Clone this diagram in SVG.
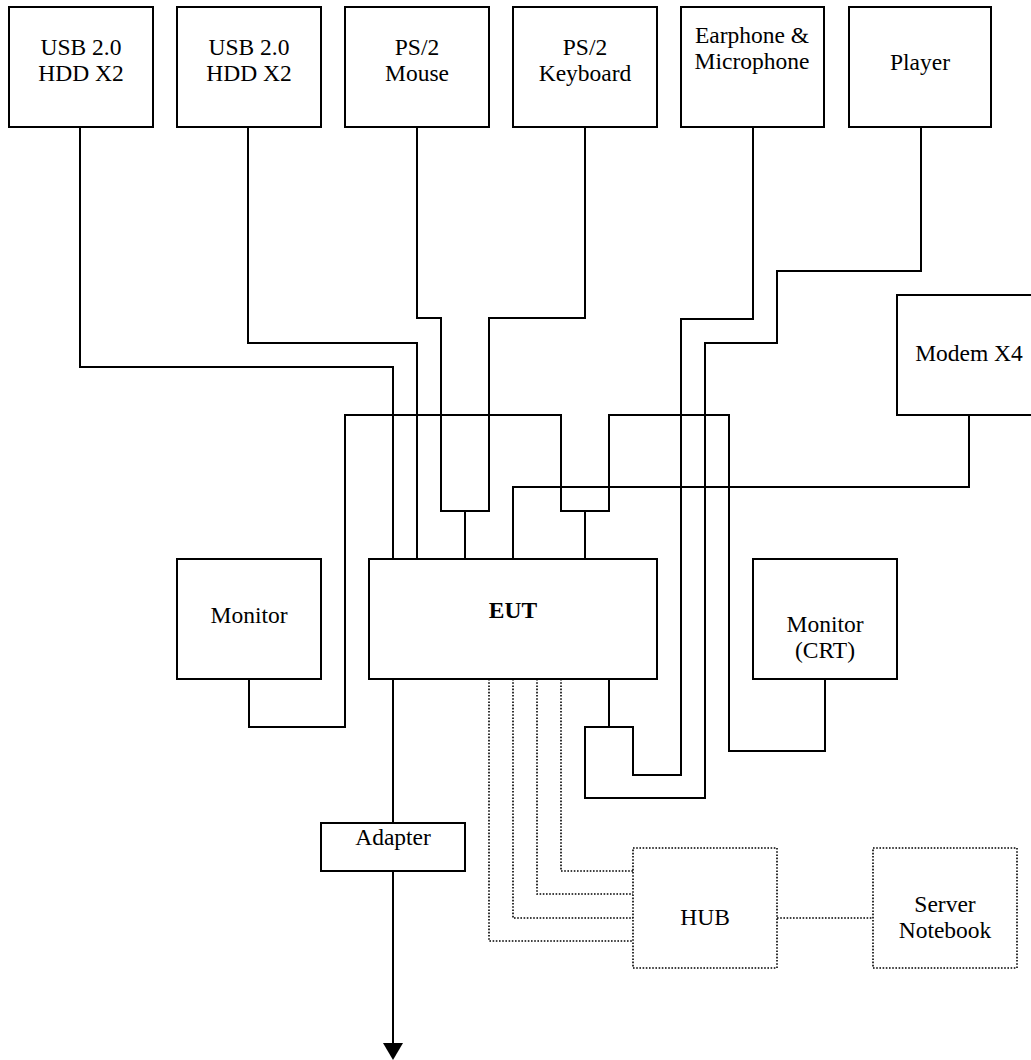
<svg xmlns="http://www.w3.org/2000/svg" width="1031" height="1060" viewBox="0 0 1031 1060">
<style>
.box{fill:#fff;stroke:#000;stroke-width:2}
.dbox{fill:#fff;stroke:#000;stroke-width:1.6;stroke-dasharray:1.6 1.6}
.ln{fill:none;stroke:#000;stroke-width:2}
.dl{fill:none;stroke:#000;stroke-width:1.6;stroke-dasharray:1.6 1.6}
text{font-family:"Liberation Serif","Times New Roman",serif;font-size:23.5px;fill:#000;text-anchor:middle}
.b{font-weight:bold}
</style>
<g id="connectors">
<path class="ln" d="M80,127 V367 H393 V559"/>
<path class="ln" d="M248,127 V343 H417 V559"/>
<path class="ln" d="M417,127 V318 H441 V511 H489 V318 H585 V127"/>
<path class="ln" d="M465,511 V559"/>
<path class="ln" d="M753,127 V319 H681 V775 H633 V727 H585 V798 H705 V343 H777 V271 H921 V127"/>
<path class="ln" d="M609,679 V727"/>
<path class="ln" d="M969,415 V487 H513 V559"/>
<path class="ln" d="M249,679 V727 H345 V415 H561 V511 H609 V415 H729 V751 H825 V679"/>
<path class="ln" d="M585,511 V559"/>
<path class="ln" d="M393,679 V823"/>
<path class="ln" d="M393,871 V1044"/>
<polygon points="383,1043 403,1043 393,1060" fill="#000"/>
<path class="dl" d="M489,679 V941 H633"/>
<path class="dl" d="M513,679 V918 H633"/>
<path class="dl" d="M537,679 V894 H633"/>
<path class="dl" d="M561,679 V871 H633"/>
<path class="dl" d="M777,918 H873"/>
</g>
<g id="usb1"><rect class="box" x="9" y="7" width="144" height="120"/><text x="81" y="55">USB 2.0</text><text x="81" y="81">HDD X2</text></g>
<g id="usb2"><rect class="box" x="177" y="7" width="144" height="120"/><text x="249" y="55">USB 2.0</text><text x="249" y="81">HDD X2</text></g>
<g id="mouse"><rect class="box" x="345" y="7" width="144" height="120"/><text x="417" y="55">PS/2</text><text x="417" y="81">Mouse</text></g>
<g id="keyboard"><rect class="box" x="513" y="7" width="144" height="120"/><text x="585" y="55">PS/2</text><text x="585" y="81">Keyboard</text></g>
<g id="earphone"><rect class="box" x="681" y="7" width="143" height="120"/><text x="752" y="43">Earphone &amp;</text><text x="752" y="69">Microphone</text></g>
<g id="player"><rect class="box" x="849" y="7" width="142" height="120"/><text x="920" y="70">Player</text></g>
<g id="modem"><rect class="box" x="897" y="295" width="144" height="120"/><text x="969" y="361">Modem X4</text></g>
<g id="monitor"><rect class="box" x="177" y="559" width="144" height="120"/><text x="249" y="623">Monitor</text></g>
<g id="eut"><rect class="box" x="369" y="559" width="288" height="120"/><text class="b" x="513" y="618">EUT</text></g>
<g id="crt"><rect class="box" x="753" y="559" width="144" height="120"/><text x="825" y="632">Monitor</text><text x="825" y="658">(CRT)</text></g>
<g id="adapter"><rect class="box" x="321" y="823" width="144" height="48"/><text x="393" y="845">Adapter</text></g>
<g id="hub"><rect class="dbox" x="633" y="848" width="144" height="120"/><text x="705" y="925">HUB</text></g>
<g id="server"><rect class="dbox" x="873" y="848" width="144" height="120"/><text x="945" y="912">Server</text><text x="945" y="938">Notebook</text></g>
</svg>
